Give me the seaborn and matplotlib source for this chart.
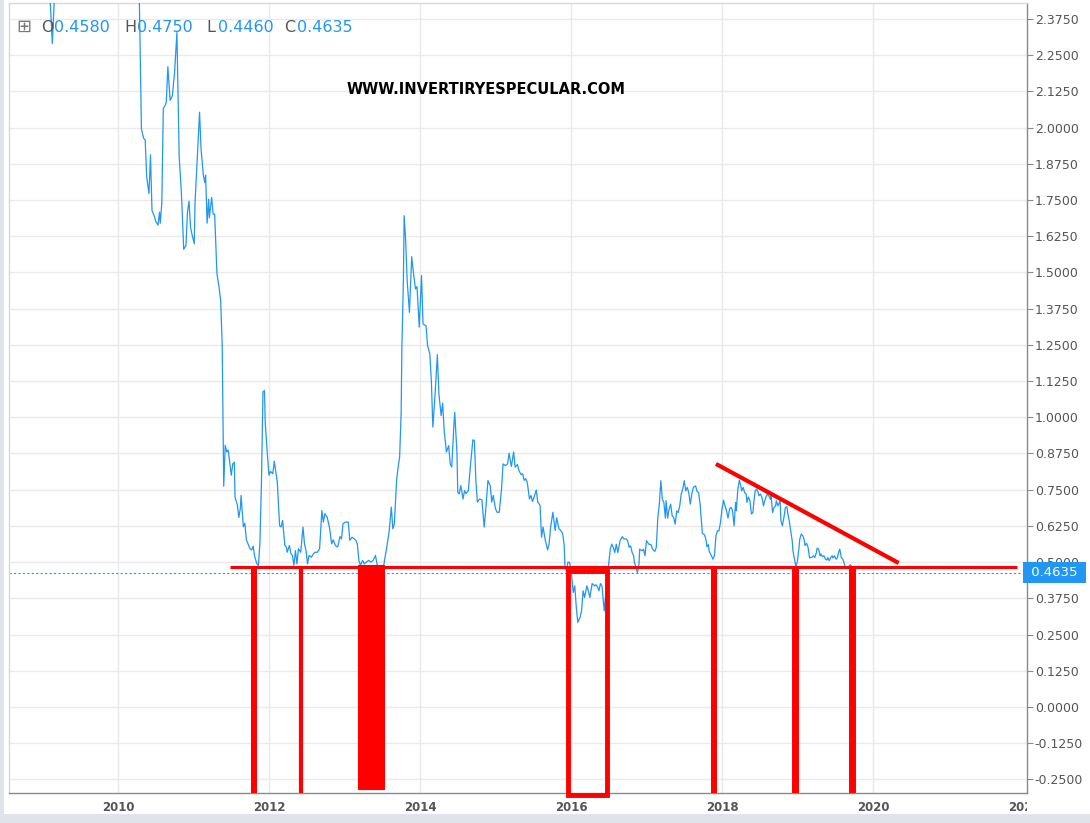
import numpy as np
import pandas as pd
import matplotlib.pyplot as plt
import seaborn as sns
from matplotlib.patches import Rectangle
from matplotlib.transforms import Bbox, TransformedBbox

# weekly closes (decimal year, price)
years = [2008.60, 2009.05, 2009.13, 2009.20, 2009.80, 2010.26,
         2010.31, 2010.34, 2010.36, 2010.38, 2010.41, 2010.43, 2010.45, 2010.48, 2010.50, 2010.53,
         2010.55, 2010.56, 2010.58, 2010.60, 2010.63, 2010.64, 2010.66, 2010.69, 2010.72, 2010.75,
         2010.78, 2010.81, 2010.84, 2010.87, 2010.90, 2010.92, 2010.94, 2010.96, 2010.98, 2011.01,
         2011.02, 2011.05, 2011.08, 2011.10, 2011.13, 2011.15, 2011.16, 2011.18, 2011.20, 2011.21,
         2011.24, 2011.26, 2011.28, 2011.31, 2011.34, 2011.36, 2011.38, 2011.40, 2011.42, 2011.44,
         2011.46, 2011.50, 2011.52, 2011.54, 2011.55, 2011.58, 2011.60, 2011.62, 2011.63, 2011.66,
         2011.68, 2011.70, 2011.73, 2011.75, 2011.77, 2011.79, 2011.81, 2011.84, 2011.86, 2011.88,
         2011.90, 2011.92, 2011.94, 2011.95, 2011.98, 2012.00, 2012.02, 2012.05, 2012.07, 2012.11,
         2012.14, 2012.16, 2012.18, 2012.21, 2012.23, 2012.24, 2012.27, 2012.29, 2012.31, 2012.33,
         2012.35, 2012.37, 2012.39, 2012.42, 2012.45, 2012.47, 2012.49, 2012.51, 2012.53, 2012.56,
         2012.59, 2012.61, 2012.64, 2012.67, 2012.70, 2012.72, 2012.74, 2012.77, 2012.80, 2012.83,
         2012.85, 2012.88, 2012.91, 2012.94, 2012.96, 2012.98, 2013.01, 2013.05, 2013.07, 2013.10,
         2013.13, 2013.15, 2013.17, 2013.19, 2013.21, 2013.24, 2013.26, 2013.29, 2013.32, 2013.35,
         2013.38, 2013.41, 2013.43, 2013.45, 2013.51, 2013.53, 2013.56, 2013.59, 2013.62, 2013.64,
         2013.66, 2013.69, 2013.71, 2013.73, 2013.75, 2013.76, 2013.78, 2013.79, 2013.81, 2013.83,
         2013.86, 2013.89, 2013.91, 2013.94, 2013.96, 2013.99, 2014.02, 2014.04, 2014.08, 2014.10,
         2014.13, 2014.15, 2014.17, 2014.20, 2014.23, 2014.25, 2014.28, 2014.30, 2014.32, 2014.35,
         2014.38, 2014.40, 2014.42, 2014.45, 2014.46, 2014.49, 2014.50, 2014.52, 2014.54, 2014.57,
         2014.59, 2014.61, 2014.64, 2014.67, 2014.70, 2014.72, 2014.74, 2014.76, 2014.79, 2014.82,
         2014.85, 2014.87, 2014.90, 2014.93, 2014.95, 2014.97, 2015.00, 2015.02, 2015.05, 2015.08,
         2015.10, 2015.13, 2015.16, 2015.18, 2015.21, 2015.24, 2015.26, 2015.29, 2015.31, 2015.34,
         2015.36, 2015.38, 2015.40, 2015.42, 2015.45, 2015.47, 2015.49, 2015.51, 2015.54, 2015.56,
         2015.59, 2015.61, 2015.63, 2015.66, 2015.69, 2015.71, 2015.73, 2015.76, 2015.79, 2015.81,
         2015.84, 2015.86, 2015.89, 2015.91, 2015.92, 2015.94, 2015.96, 2015.98, 2016.00, 2016.03,
         2016.05, 2016.07, 2016.09, 2016.12, 2016.14, 2016.16, 2016.18, 2016.21, 2016.23, 2016.25,
         2016.28, 2016.31, 2016.33, 2016.35, 2016.37, 2016.39, 2016.41, 2016.42, 2016.44, 2016.46,
         2016.49, 2016.52, 2016.54, 2016.56, 2016.58, 2016.60, 2016.62, 2016.65, 2016.68, 2016.70,
         2016.73, 2016.75, 2016.77, 2016.79, 2016.81, 2016.83, 2016.84, 2016.86, 2016.88, 2016.90,
         2016.91, 2016.94, 2016.96, 2016.98, 2017.00, 2017.03, 2017.06, 2017.08, 2017.11, 2017.13,
         2017.15, 2017.17, 2017.19, 2017.21, 2017.23, 2017.25, 2017.26, 2017.28, 2017.30, 2017.32,
         2017.34, 2017.36, 2017.38, 2017.40, 2017.42, 2017.44, 2017.46, 2017.48, 2017.50, 2017.52,
         2017.54, 2017.56, 2017.58, 2017.60, 2017.62, 2017.65, 2017.67, 2017.69, 2017.71, 2017.73,
         2017.74, 2017.77, 2017.79, 2017.80, 2017.82, 2017.83, 2017.86, 2017.88, 2017.90, 2017.92,
         2017.94, 2017.96, 2017.98, 2018.00, 2018.02, 2018.04, 2018.06, 2018.08, 2018.10, 2018.12,
         2018.14, 2018.16, 2018.18, 2018.19, 2018.21, 2018.23, 2018.25, 2018.26, 2018.28, 2018.30,
         2018.32, 2018.33, 2018.35, 2018.37, 2018.39, 2018.41, 2018.42, 2018.44, 2018.46, 2018.48,
         2018.49, 2018.51, 2018.53, 2018.55, 2018.56, 2018.58, 2018.60, 2018.62, 2018.64, 2018.65,
         2018.67, 2018.69, 2018.71, 2018.72, 2018.74, 2018.77, 2018.78, 2018.80, 2018.82, 2018.84,
         2018.86, 2018.87, 2018.89, 2018.91, 2018.93, 2018.94, 2018.96, 2018.98, 2019.00, 2019.02,
         2019.03, 2019.05, 2019.07, 2019.09, 2019.10, 2019.12, 2019.14, 2019.16, 2019.17, 2019.19,
         2019.21, 2019.23, 2019.25, 2019.26, 2019.28, 2019.30, 2019.31, 2019.33, 2019.35, 2019.37,
         2019.39, 2019.40, 2019.42, 2019.44, 2019.46, 2019.47, 2019.49, 2019.51, 2019.53, 2019.54,
         2019.56, 2019.58, 2019.60, 2019.62, 2019.63, 2019.65, 2019.67, 2019.69, 2019.70, 2019.72,
         2019.74]

price = [3.00, 2.70, 2.29, 2.70, 3.10, 2.80,
         1.995, 1.963, 1.957, 1.829, 1.772, 1.906, 1.714, 1.695, 1.676, 1.663,
         1.708, 1.670, 1.740, 2.066, 2.079, 2.091, 2.210, 2.094, 2.110, 2.194,
         2.328, 1.900, 1.772, 1.580, 1.593, 1.708, 1.746, 1.657, 1.631, 1.599,
         1.740, 1.900, 2.053, 1.925, 1.836, 1.810, 1.836, 1.670, 1.753, 1.689,
         1.759, 1.701, 1.701, 1.497, 1.446, 1.401, 1.248, 0.762, 0.903, 0.880,
         0.887, 0.800, 0.839, 0.845, 0.724, 0.698, 0.654, 0.685, 0.730, 0.622,
         0.634, 0.577, 0.558, 0.545, 0.542, 0.555, 0.519, 0.494, 0.488, 0.570,
         0.775, 1.088, 1.092, 0.980, 0.865, 0.800, 0.813, 0.805, 0.848, 0.776,
         0.626, 0.621, 0.644, 0.557, 0.552, 0.534, 0.557, 0.529, 0.523, 0.489,
         0.540, 0.494, 0.546, 0.534, 0.621, 0.563, 0.540, 0.494, 0.523, 0.517,
         0.529, 0.534, 0.534, 0.546, 0.678, 0.638, 0.667, 0.655, 0.621, 0.563,
         0.577, 0.557, 0.552, 0.588, 0.580, 0.632, 0.638, 0.638, 0.575, 0.586,
         0.580, 0.575, 0.563, 0.506, 0.489, 0.506, 0.494, 0.500, 0.506, 0.500,
         0.506, 0.523, 0.494, 0.483, 0.471, 0.506, 0.552, 0.603, 0.690, 0.615,
         0.632, 0.782, 0.828, 0.862, 1.012, 1.242, 1.472, 1.696, 1.610, 1.472,
         1.362, 1.554, 1.506, 1.443, 1.451, 1.311, 1.489, 1.322, 1.316, 1.247,
         1.219, 1.127, 0.966, 1.081, 1.216, 1.081, 1.006, 1.049, 0.954, 0.880,
         0.902, 0.839, 0.828, 0.977, 1.017, 0.874, 0.741, 0.736, 0.764, 0.718,
         0.747, 0.736, 0.747, 0.839, 0.922, 0.920, 0.782, 0.707, 0.718, 0.715,
         0.621, 0.678, 0.782, 0.764, 0.707, 0.730, 0.684, 0.672, 0.672, 0.753,
         0.839, 0.833, 0.839, 0.876, 0.830, 0.880, 0.828, 0.837, 0.816, 0.802,
         0.805, 0.782, 0.788, 0.776, 0.718, 0.730, 0.709, 0.724, 0.749, 0.707,
         0.696, 0.586, 0.621, 0.575, 0.542, 0.563, 0.621, 0.672, 0.609, 0.653,
         0.615, 0.611, 0.598, 0.557, 0.483, 0.471, 0.500, 0.499, 0.476, 0.395,
         0.418, 0.344, 0.292, 0.309, 0.332, 0.401, 0.378, 0.418, 0.401, 0.378,
         0.426, 0.418, 0.422, 0.415, 0.401, 0.426, 0.418, 0.390, 0.332, 0.390,
         0.470, 0.545, 0.562, 0.551, 0.533, 0.562, 0.533, 0.574, 0.588, 0.580,
         0.580, 0.574, 0.551, 0.556, 0.533, 0.522, 0.499, 0.482, 0.464, 0.493,
         0.545, 0.539, 0.545, 0.522, 0.574, 0.562, 0.560, 0.545, 0.537, 0.551,
         0.654, 0.700, 0.781, 0.717, 0.706, 0.652, 0.712, 0.652, 0.683, 0.700,
         0.660, 0.654, 0.631, 0.677, 0.671, 0.694, 0.735, 0.752, 0.781, 0.746,
         0.758, 0.740, 0.700, 0.735, 0.758, 0.763, 0.744, 0.740, 0.700, 0.630,
         0.599, 0.594, 0.574, 0.553, 0.560, 0.537, 0.522, 0.510, 0.522, 0.591,
         0.608, 0.608, 0.637, 0.683, 0.714, 0.694, 0.677, 0.652, 0.683, 0.689,
         0.677, 0.625, 0.706, 0.677, 0.752, 0.783, 0.763, 0.746, 0.758, 0.740,
         0.735, 0.706, 0.725, 0.712, 0.666, 0.671, 0.703, 0.746, 0.752, 0.740,
         0.729, 0.735, 0.723, 0.694, 0.706, 0.723, 0.735, 0.729, 0.717, 0.729,
         0.671, 0.689, 0.694, 0.712, 0.694, 0.712, 0.643, 0.625, 0.654, 0.689,
         0.691, 0.671, 0.643, 0.608, 0.574, 0.539, 0.510, 0.482, 0.505, 0.551,
         0.579, 0.597, 0.591, 0.576, 0.557, 0.565, 0.551, 0.514, 0.516, 0.516,
         0.522, 0.516, 0.533, 0.548, 0.545, 0.522, 0.528, 0.519, 0.522, 0.510,
         0.507, 0.516, 0.505, 0.516, 0.522, 0.514, 0.522, 0.510, 0.516, 0.530,
         0.545, 0.516, 0.510, 0.495, 0.484, 0.484, 0.484, 0.487, 0.491, 0.484,
         0.4635]

ohlc_names = ['O', 'H', 'L', 'C']
ohlc_values = ['0.4580', '0.4750', '0.4460', '0.4635']
last_close = 0.4635

# hand drawn red marks
support_level = 0.483
support_span = [2011.48, 2021.91]
touch_years = [2011.80, 2012.42, 2017.89, 2018.97, 2019.72]
touch_widths = [4.3, 3.0, 4.3, 5.0, 5.0]
filled_box = [2013.18, 2013.52, -0.283, 0.490]   # x0, x1, y0, y1
hollow_box = [2015.96, 2016.48, -0.304, 0.469]
trend_x = [2017.92, 2020.34]
trend_y = [0.839, 0.497]

year_ticks = [2010, 2012, 2014, 2016, 2018, 2020, 2022]
year_labels = ['2010', '2012', '2014', '2016', '2018', '2020', '2022']
price_ticks = [-0.25, -0.125, 0.0, 0.125, 0.25, 0.375, 0.5, 0.625, 0.75, 0.875, 1.0,
               1.125, 1.25, 1.375, 1.5, 1.625, 1.75, 1.875, 2.0, 2.125, 2.25, 2.375]

blue = '#2196F3'
red = '#FF0000'
grid_col = '#EAEAEA'

sns.set_style('white')
plt.rcParams['font.family'] = ['DejaVu Sans']

W, H = 1090, 823
fig = plt.figure(figsize=(W / 100, H / 100), dpi=100)
ax = fig.add_axes([9 / W, 30 / H, (1027 - 9) / W, (820 - 30) / H])

# grey frame strips of the trading app (behind everything)
fig.patches.append(Rectangle((0, 0), 1, 9 / H, transform=fig.transFigure,
                             facecolor='#E1E3EA', edgecolor='none', zorder=-5))
fig.patches.append(Rectangle((0, 0), 4 / W, 1, transform=fig.transFigure,
                             facecolor='#E1E3EA', edgecolor='none', zorder=-5))

df = pd.DataFrame({'year': years, 'price': price})
sns.lineplot(data=df, x='year', y='price', ax=ax, color=blue, linewidth=0.9,
             estimator=None, sort=False, zorder=3)

ax.set_xlim(2008.556, 2022.04)
ax.set_ylim(-0.297, 2.430)

# grid by hand, no vertical line at 2022
for y in price_ticks:
    ax.axhline(y, color=grid_col, linewidth=1.0, zorder=0)
for x in year_ticks[:-1]:
    ax.axvline(x, color=grid_col, linewidth=1.0, zorder=0)

ax.axhline(last_close, color=blue, linewidth=0.8, linestyle=(0, (2, 2)), zorder=2)

# red annotations
ax.plot(support_span, [support_level, support_level], color=red, linewidth=2.2,
        solid_capstyle='butt', zorder=5)
for xv, lw in zip(touch_years, touch_widths):
    ax.plot([xv, xv], [-0.30, support_level], color=red, linewidth=lw,
            solid_capstyle='butt', zorder=5)
ax.add_patch(Rectangle((filled_box[0], filled_box[2]), filled_box[1] - filled_box[0],
                       filled_box[3] - filled_box[2], facecolor=red, edgecolor=red,
                       linewidth=0.8, zorder=5))
ax.add_patch(Rectangle((hollow_box[0], hollow_box[2]), hollow_box[1] - hollow_box[0],
                       hollow_box[3] - hollow_box[2], fill=False, edgecolor=red,
                       linewidth=3.5, zorder=5, clip_on=False))
ax.plot(trend_x, trend_y, color=red, linewidth=3.0, solid_capstyle='butt', zorder=5)

# axes
ax.yaxis.tick_right()
ax.set_yticks(price_ticks)
ax.set_yticklabels(['%.4f' % v for v in price_ticks])
ax.set_xticks(year_ticks)
ax.set_xticklabels(year_labels)
ax.set_xlabel('')
ax.set_ylabel('')
ax.tick_params(axis='y', direction='out', length=4, width=0.8, color='#8a8a8a',
               labelcolor='#555555', labelsize=9, pad=1.5, left=False, right=True)
ax.tick_params(axis='x', length=0, labelcolor='#555555', labelsize=8.5, pad=6)
for lab in ax.get_xticklabels():
    lab.set_fontweight('bold')
# last year label runs under the price scale
clip = TransformedBbox(Bbox([[0, 0], [1027 / W, 1]]), fig.transFigure)
lab_last = ax.get_xticklabels()[-1]
lab_last.set_clip_box(clip)
lab_last.set_clip_on(True)

for side in ['right', 'bottom']:
    ax.spines[side].set_color('#8a8a8a')
    ax.spines[side].set_linewidth(1.0)
for side in ['top', 'left']:
    ax.spines[side].set_color('#D8D8D8')
    ax.spines[side].set_linewidth(1.0)

# price label on the scale
ax.text(1.0, last_close, ' 0.4635 ', transform=ax.get_yaxis_transform(),
        color='white', fontsize=9.5, va='center', ha='left', clip_on=False, zorder=10,
        bbox=dict(facecolor=blue, edgecolor='none', boxstyle='square,pad=0.3'))

# OHLC header
fig.text(16 / W, 1 - 27 / H, '\u229e', color='#777777', fontsize=13, va='center', ha='left')
name_x = [41, 124, 206, 284]
val_x = [54, 137, 218, 297]
for nm, vl, nx, vx in zip(ohlc_names, ohlc_values, name_x, val_x):
    fig.text(nx / W, 1 - 27 / H, nm, color='#555555', fontsize=11.5, va='center', ha='left')
    fig.text(vx / W, 1 - 27 / H, vl, color=blue, fontsize=11.5, va='center', ha='left')

ax.text(486 / W, 1 - 89 / H, 'WWW.INVERTIRYESPECULAR.COM', transform=fig.transFigure,
        color='black', fontsize=10.5, fontweight='bold', va='center', ha='center')

fig.savefig('out.png', dpi=100)
